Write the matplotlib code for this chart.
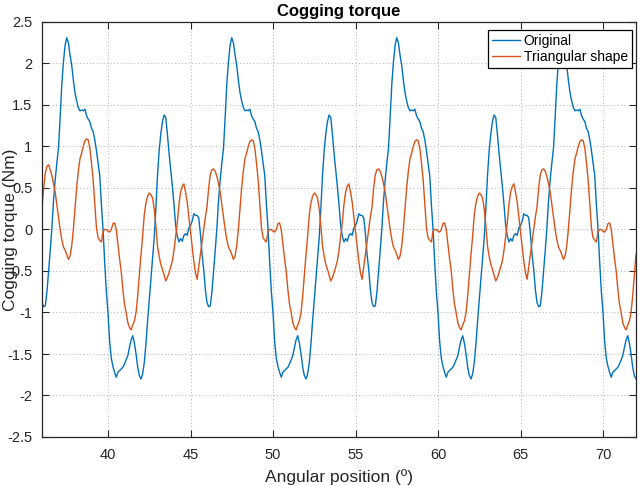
import numpy as np
import matplotlib
matplotlib.use("Agg")
import matplotlib.pyplot as plt
from matplotlib import font_manager

# ---------------- data (0.1 deg steps) ----------------
angle_start = 36.0
angle_step = 0.1

original_36_46 = [
    -0.88, -0.93, -0.92, -0.75, -0.50, -0.25, 0.02, 0.35, 0.60, 0.80,
    0.98, 1.35, 1.75, 2.02, 2.22, 2.31, 2.25, 2.10, 1.98, 1.80,
    1.65, 1.55, 1.47, 1.43, 1.44, 1.43, 1.45, 1.37, 1.33, 1.30,
    1.22, 1.18, 1.08, 0.95, 0.80, 0.65, 0.30, 0.00, -0.40, -0.75,
    -1.00, -1.35, -1.55, -1.65, -1.72, -1.78, -1.72, -1.70, -1.68, -1.66,
    -1.62, -1.57, -1.52, -1.42, -1.33, -1.28, -1.37, -1.50, -1.66, -1.76,
    -1.80, -1.74, -1.60, -1.38, -1.10, -0.85, -0.60, -0.35, -0.10, 0.25,
    0.65, 0.95, 1.15, 1.30, 1.38, 1.35, 1.15, 0.92, 0.72, 0.52,
    0.30, 0.05, -0.08, -0.15, -0.11, -0.14, -0.07, -0.05, -0.07, 0.02,
    0.05, 0.10, 0.19, 0.17, 0.17, 0.14, -0.05, -0.30, -0.48, -0.72,
]
original_46_56 = [
    -0.88, -0.93, -0.92, -0.75, -0.50, -0.25, 0.02, 0.35, 0.60, 0.80,
    0.98, 1.35, 1.75, 2.02, 2.22, 2.31, 2.25, 2.10, 1.98, 1.80,
    1.65, 1.55, 1.47, 1.43, 1.44, 1.43, 1.45, 1.37, 1.33, 1.30,
    1.22, 1.18, 1.08, 0.95, 0.80, 0.65, 0.30, 0.00, -0.40, -0.75,
    -1.00, -1.35, -1.55, -1.65, -1.72, -1.78, -1.72, -1.70, -1.68, -1.66,
    -1.62, -1.57, -1.52, -1.42, -1.33, -1.28, -1.37, -1.50, -1.66, -1.76,
    -1.80, -1.74, -1.60, -1.38, -1.10, -0.85, -0.60, -0.35, -0.10, 0.25,
    0.65, 0.95, 1.15, 1.30, 1.38, 1.35, 1.15, 0.92, 0.72, 0.52,
    0.30, 0.05, -0.08, -0.15, -0.11, -0.14, -0.07, -0.05, -0.07, 0.02,
    0.05, 0.10, 0.19, 0.17, 0.17, 0.14, -0.05, -0.30, -0.48, -0.72,
]
original_56_66 = [
    -0.88, -0.93, -0.92, -0.75, -0.50, -0.25, 0.02, 0.35, 0.60, 0.80,
    0.98, 1.35, 1.75, 2.02, 2.22, 2.31, 2.25, 2.10, 1.98, 1.80,
    1.65, 1.55, 1.47, 1.43, 1.44, 1.43, 1.45, 1.37, 1.33, 1.30,
    1.22, 1.18, 1.08, 0.95, 0.80, 0.65, 0.30, 0.00, -0.40, -0.75,
    -1.00, -1.35, -1.55, -1.65, -1.72, -1.78, -1.72, -1.70, -1.68, -1.66,
    -1.62, -1.57, -1.52, -1.42, -1.33, -1.28, -1.37, -1.50, -1.66, -1.76,
    -1.80, -1.74, -1.60, -1.38, -1.10, -0.85, -0.60, -0.35, -0.10, 0.25,
    0.65, 0.95, 1.15, 1.30, 1.38, 1.35, 1.15, 0.92, 0.72, 0.52,
    0.30, 0.05, -0.08, -0.15, -0.11, -0.14, -0.07, -0.05, -0.07, 0.02,
    0.05, 0.10, 0.19, 0.17, 0.17, 0.14, -0.05, -0.30, -0.48, -0.72,
]
original_66_72 = [
    -0.88, -0.93, -0.92, -0.75, -0.50, -0.25, 0.02, 0.35, 0.60, 0.80,
    0.98, 1.35, 1.75, 2.02, 2.22, 2.31, 2.25, 2.10, 1.98, 1.80,
    1.65, 1.55, 1.47, 1.43, 1.44, 1.43, 1.45, 1.37, 1.33, 1.30,
    1.22, 1.18, 1.08, 0.95, 0.80, 0.65, 0.30, 0.00, -0.40, -0.75,
    -1.00, -1.35, -1.55, -1.65, -1.72, -1.78, -1.72, -1.70, -1.68, -1.66,
    -1.62, -1.57, -1.52, -1.42, -1.33, -1.28, -1.37, -1.50, -1.66, -1.76,
    -1.80,
]

triangular_36_46 = [
    0.27, 0.50, 0.68, 0.76, 0.78, 0.72, 0.65, 0.55, 0.45, 0.30,
    0.15, 0.00, -0.12, -0.21, -0.25, -0.30, -0.36, -0.32, -0.20, 0.00,
    0.25, 0.50, 0.70, 0.85, 0.92, 1.00, 1.07, 1.09, 1.08, 0.98,
    0.80, 0.60, 0.30, 0.02, -0.10, -0.13, -0.15, -0.02, 0.00, 0.00,
    -0.02, -0.03, 0.00, 0.07, 0.08, 0.00, -0.18, -0.35, -0.50, -0.72,
    -0.90, -1.00, -1.12, -1.18, -1.21, -1.15, -1.10, -1.00, -0.80, -0.55,
    -0.30, -0.08, 0.18, 0.32, 0.40, 0.44, 0.42, 0.38, 0.25, 0.05,
    -0.20, -0.32, -0.42, -0.48, -0.55, -0.62, -0.58, -0.52, -0.45, -0.38,
    -0.25, -0.08, 0.08, 0.30, 0.45, 0.52, 0.55, 0.45, 0.33, 0.15,
    -0.02, -0.20, -0.38, -0.52, -0.60, -0.45, -0.30, -0.15, 0.00, 0.15,
]
triangular_46_56 = [
    0.27, 0.50, 0.66, 0.72, 0.73, 0.70, 0.64, 0.55, 0.45, 0.30,
    0.15, 0.00, -0.12, -0.21, -0.25, -0.30, -0.36, -0.32, -0.20, 0.00,
    0.25, 0.50, 0.70, 0.85, 0.92, 1.00, 1.06, 1.08, 1.07, 0.98,
    0.80, 0.60, 0.30, 0.02, -0.10, -0.13, -0.15, -0.02, 0.00, 0.00,
    -0.02, -0.03, 0.00, 0.07, 0.08, 0.00, -0.18, -0.35, -0.50, -0.72,
    -0.90, -1.00, -1.12, -1.18, -1.21, -1.15, -1.10, -1.00, -0.80, -0.55,
    -0.30, -0.08, 0.18, 0.32, 0.40, 0.44, 0.42, 0.38, 0.25, 0.05,
    -0.20, -0.32, -0.42, -0.48, -0.55, -0.62, -0.58, -0.52, -0.45, -0.38,
    -0.25, -0.08, 0.08, 0.30, 0.45, 0.52, 0.55, 0.45, 0.33, 0.15,
    -0.02, -0.20, -0.38, -0.52, -0.60, -0.45, -0.30, -0.15, 0.00, 0.15,
]
triangular_56_66 = [
    0.27, 0.50, 0.66, 0.72, 0.73, 0.70, 0.64, 0.55, 0.45, 0.30,
    0.15, 0.00, -0.12, -0.21, -0.25, -0.30, -0.36, -0.32, -0.20, 0.00,
    0.25, 0.50, 0.70, 0.85, 0.92, 1.00, 1.06, 1.08, 1.07, 0.98,
    0.80, 0.60, 0.30, 0.02, -0.10, -0.13, -0.15, -0.02, 0.00, 0.00,
    -0.02, -0.03, 0.00, 0.07, 0.08, 0.00, -0.18, -0.35, -0.50, -0.72,
    -0.90, -1.00, -1.12, -1.18, -1.21, -1.15, -1.10, -1.00, -0.80, -0.55,
    -0.30, -0.08, 0.18, 0.32, 0.40, 0.44, 0.42, 0.38, 0.25, 0.05,
    -0.20, -0.32, -0.42, -0.48, -0.55, -0.62, -0.58, -0.52, -0.45, -0.38,
    -0.25, -0.08, 0.08, 0.30, 0.45, 0.52, 0.55, 0.45, 0.33, 0.15,
    -0.02, -0.20, -0.38, -0.52, -0.60, -0.45, -0.30, -0.15, 0.00, 0.15,
]
triangular_66_72 = [
    0.27, 0.50, 0.66, 0.72, 0.73, 0.70, 0.64, 0.55, 0.45, 0.30,
    0.15, 0.00, -0.12, -0.21, -0.25, -0.30, -0.36, -0.32, -0.20, 0.00,
    0.25, 0.50, 0.70, 0.85, 0.92, 1.00, 1.06, 1.08, 1.07, 0.98,
    0.80, 0.60, 0.30, 0.02, -0.10, -0.13, -0.15, -0.02, 0.00, 0.00,
    -0.02, -0.03, 0.00, 0.07, 0.08, 0.00, -0.18, -0.35, -0.50, -0.72,
    -0.90, -1.00, -1.12, -1.18, -1.21, -1.15, -1.10, -1.00, -0.80, -0.55,
    -0.30,
]

x_ticks = [40, 45, 50, 55, 60, 65, 70]
y_ticks = [-2.5, -2, -1.5, -1, -0.5, 0, 0.5, 1, 1.5, 2, 2.5]
y_tick_labels = ["-2.5", "-2", "-1.5", "-1", "-0.5", "0", "0.5", "1", "1.5", "2", "2.5"]
series_names = ["Original", "Triangular shape"]

original = np.array(original_36_46 + original_46_56 + original_56_66 + original_66_72)
triangular = np.array(triangular_36_46 + triangular_46_56 + triangular_56_66 + triangular_66_72)
angle = angle_start + angle_step * np.arange(len(original))

# ---------------- style ----------------
available = {f.name for f in font_manager.fontManager.ttflist}
fam = "Liberation Sans Narrow" if "Liberation Sans Narrow" in available else "Liberation Sans"
plt.rcParams["font.family"] = [fam, "DejaVu Sans"]

axis_col = "#262626"
fig = plt.figure(figsize=(6.4, 4.86), dpi=100)
ax = fig.add_axes([42 / 640, 1 - 437 / 486, (636 - 42) / 640, (437 - 22) / 486])

ax.plot(angle, original, color="#0072BD", lw=1.0, label=series_names[0])
ax.plot(angle, triangular, color="#D95319", lw=1.0, label=series_names[1])

ax.set_xlim(36, 72)
ax.set_ylim(-2.5, 2.5)
ax.set_xticks(x_ticks)
ax.set_xticklabels([str(t) for t in x_ticks])
ax.set_yticks(y_ticks)
ax.set_yticklabels(y_tick_labels)
ax.grid(True, color="#b0b0b0", linestyle=(0, (1, 2.5)), linewidth=0.7)
ax.tick_params(direction="in", top=True, right=True, length=5, width=0.8,
               colors=axis_col, labelsize=10.5, labelcolor=axis_col)
ax.tick_params(axis="y", pad=7)
ax.tick_params(axis="x", pad=8)
for s in ax.spines.values():
    s.set_color(axis_col)
    s.set_linewidth(0.9)

ax.set_title("Cogging torque", fontsize=12, fontweight="bold", color="black", pad=4)
ax.set_xlabel("Angular position (º)", fontsize=12.5, color=axis_col, labelpad=5)
ax.set_ylabel("Cogging torque (Nm)", fontsize=12.5, color=axis_col)
ax.yaxis.set_label_coords(-0.040, 0.5)

leg = ax.legend(loc="upper right", bbox_to_anchor=(0.998, 0.988), fontsize=10,
                frameon=True, fancybox=False, framealpha=1, edgecolor="black",
                handlelength=2.0, handletextpad=0.25, borderpad=0.3,
                labelspacing=0.15, borderaxespad=0.2)
leg.get_frame().set_linewidth(0.9)

fig.savefig("out.png", dpi=100)
